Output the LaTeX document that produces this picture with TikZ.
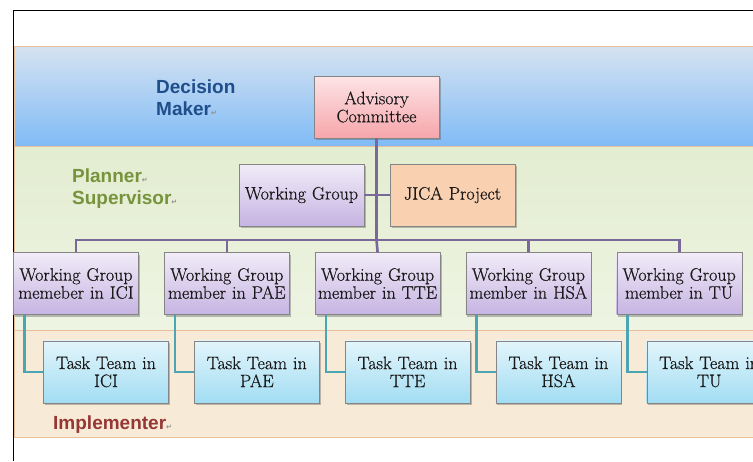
\documentclass[tikz,border=0pt]{standalone}
\usepackage{fontspec}
\setsansfont{Liberation Sans}
\newfontfamily\markfont{DejaVu Sans}
\newfontfamily\boxfont{Latin Modern Roman}[FakeBold=0.6]
\usetikzlibrary{positioning, shadows}

\definecolor{boxline}{HTML}{858585}
\definecolor{bandline}{HTML}{E9BE98}
\definecolor{treeline}{HTML}{7A6898}
\definecolor{teamline}{HTML}{4BA5B3}
\definecolor{decisioncol}{HTML}{1F4E8C}
\definecolor{plannercol}{HTML}{77933C}
\definecolor{implcol}{HTML}{953735}
\definecolor{advtop}{HTML}{FDE4E6}
\definecolor{advbot}{HTML}{F6A6AB}
\definecolor{grouptop}{HTML}{F1ECF8}
\definecolor{groupbot}{HTML}{C6B4E2}
\definecolor{jicafill}{HTML}{F9D0B0}
\definecolor{tasktop}{HTML}{E3F5FB}
\definecolor{taskbot}{HTML}{A2DDF3}
\definecolor{bluetop}{HTML}{D6E3F1}
\definecolor{bluebot}{HTML}{80BBF6}
\definecolor{greentop}{HTML}{E3EDD0}
\definecolor{greenbot}{HTML}{EEF4E3}
\definecolor{beige}{HTML}{F7EBD7}

\newcommand{\retmark}{{\markfont\fontsize{7}{7}\selectfont\color{black!45}\char"21B5}}

\tikzset{
	box/.style={draw=boxline, rectangle, inner sep=0.5pt, minimum width=125pt, minimum height=62pt, text width=124pt, align=center, text=black!90, font=\boxfont\fontsize{18}{18}\selectfont, drop shadow={shadow xshift=1.5pt, shadow yshift=-2pt, opacity=0.35, fill=black!70}},
	advisory/.style={box, top color=advtop, bottom color=advbot},
	group/.style={box, top color=grouptop, bottom color=groupbot},
	jica/.style={box, fill=jicafill},
	task/.style={box, top color=tasktop, bottom color=taskbot},
	% horizontal layers behind the chart
	band/.style={draw=bandline, line width=0.6pt},
	layer/.style={anchor=north west, inner sep=0pt, align=left, font=\sffamily\bfseries\fontsize{19}{22}\selectfont},
}

\begin{document}
\begin{tikzpicture}[x=1pt, y=-1pt]
	\useasboundingbox (0,0) rectangle (753,461);
	\clip (0,0) rectangle (753,461);
	\fill[white] (0,0) rectangle (753,461);

	\draw[band, top color=bluetop, bottom color=bluebot] (14,46) rectangle (760,146);
	\draw[band, top color=greentop, bottom color=greenbot] (14,146) rectangle (760,330);
	\draw[band, fill=beige] (14,330) rectangle (760,437);
	\draw[line width=0.8pt] (13,461) -- (13,10) -- (760,10);

	\node (dm) [layer, text=decisioncol] at (156,80) {Decision\\Maker\retmark};
	\node (ps) [layer, text=plannercol] at (72,169) {Planner\retmark\\Supervisor\retmark};
	\node (im) [layer, text=implcol] at (53,416) {Implementer\retmark};

	\node (adv) [advisory] at (376.5,107) {Advisory\\Committee};
	\node (wg) [group] at (301.5,195) {Working Group};
	\node (jica) [jica] at (452.5,195) {JICA Project};

	\node (m1) [group] at (76,283.5) {Working Group\\memeber in ICI};
	\node (m2) [group, right=25.4pt of m1] {Working Group\\member in PAE};
	\node (m3) [group, right=25.4pt of m2] {Working Group\\member in TTE};
	\node (m4) [group, right=25.4pt of m3] {Working Group\\member in HSA};
	\node (m5) [group, right=25.4pt of m4] {Working Group\\member in TU};

	\node (t1) [task, below=26pt of m1, xshift=30pt] {Task Team in\\ICI};
	\node (t2) [task, below=26pt of m2, xshift=30pt] {Task Team in\\PAE};
	\node (t3) [task, below=26pt of m3, xshift=30pt] {Task Team in\\TTE};
	\node (t4) [task, below=26pt of m4, xshift=30pt] {Task Team in\\HSA};
	\node (t5) [task, below=26pt of m5, xshift=30pt] {Task Team in\\TU};

	\coordinate (bus) at (376.5,240);

	\begin{scope}[line width=2.6pt, treeline]
		\draw (adv) -- (bus);
		\draw (wg) -- (jica);
		\draw (m1.north) |- (bus) -| (m5.north);
		\draw (m2.north) -- (m2.north |- bus);
		\draw (m3.north) -- (bus);
		\draw (m4.north) -- (m4.north |- bus);
	\end{scope}

	\begin{scope}[line width=2.6pt, teamline]
		\draw ([xshift=11pt]m1.south west) |- (t1.west);
		\draw ([xshift=11pt]m2.south west) |- (t2.west);
		\draw ([xshift=11pt]m3.south west) |- (t3.west);
		\draw ([xshift=11pt]m4.south west) |- (t4.west);
		\draw ([xshift=11pt]m5.south west) |- (t5.west);
	\end{scope}
\end{tikzpicture}
\end{document}
